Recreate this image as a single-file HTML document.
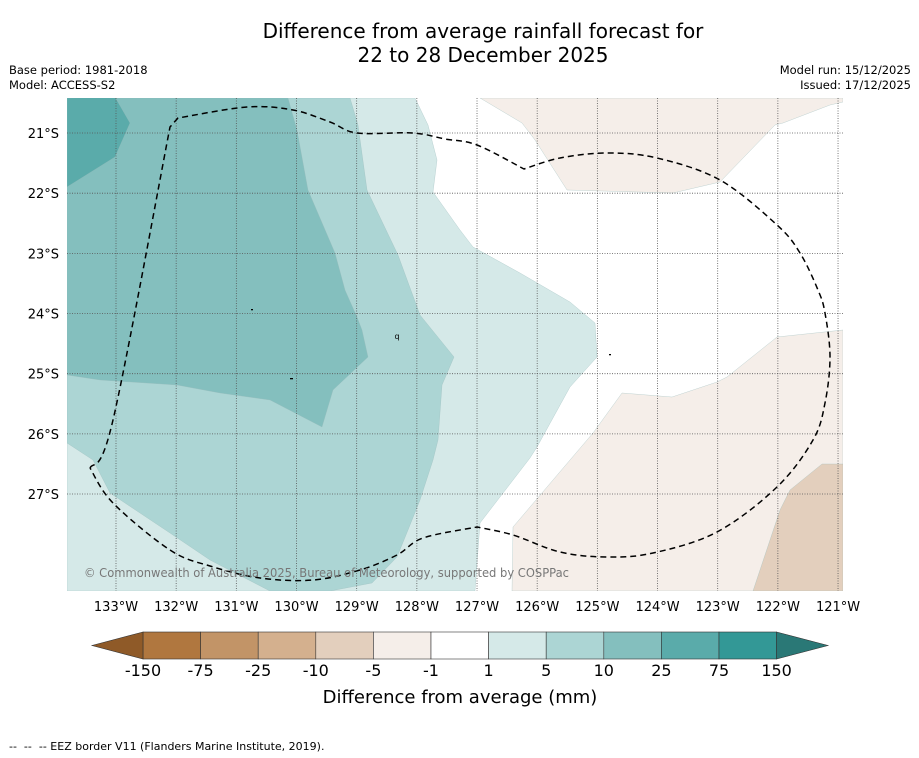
<!DOCTYPE html>
<html><head><meta charset="utf-8"><style>
body{margin:0;background:#fff;font-family:"Liberation Sans","DejaVu Sans",sans-serif;}
#wrap{position:relative;width:919px;height:758px;overflow:hidden;}
.t{position:absolute;font-family:"DejaVu Sans","Liberation Sans",sans-serif;}
</style></head><body>
<div id="wrap">
<div class="t" style="left:0;width:966px;top:19px;text-align:center;font-size:20px;line-height:24px;color:#000">Difference from average rainfall forecast for<br>22 to 28 December 2025</div>
<div class="t" style="left:9px;top:63px;font-size:11.5px;line-height:15px">Base period: 1981-2018<br>Model: ACCESS-S2</div>
<div class="t" style="right:8px;top:63px;font-size:11.5px;line-height:15px;text-align:right">Model run: 15/12/2025<br>Issued: 17/12/2025</div>
<div class="t" style="left:9px;top:740px;font-size:11px">-- &nbsp;-- &nbsp;-- EEZ border V11 (Flanders Marine Institute, 2019).</div>
<svg id="svg" width="919" height="758" style="position:absolute;left:0;top:0"></svg>
</div>
<script>
const lonTicks=[133,132,131,130,129,128,127,126,125,124,123,122,121];
const latTicks=[21,22,23,24,25,26,27];
const cbLevels=["-150","-75","-25","-10","-5","-1","1","5","10","25","75","150"];
const cbColors=["#b0773f","#c29467","#d4b08e","#e3cfbd","#f5eee9","#ffffff","#d5e9e8","#acd5d4","#84bfbe","#5aabaa","#339896"];
const lonX=l=>116+(133-l)*60.17;
const latY=l=>133+(l-21)*60.17;
const NS="http://www.w3.org/2000/svg";
const svg=document.getElementById('svg');
function mk(tag,attrs,parent){const e=document.createElementNS(NS,tag);for(const k in attrs)e.setAttribute(k,attrs[k]);(parent||svg).appendChild(e);return e;}
const defs=mk('defs',{});
const cp=mk('clipPath',{id:'mc'},defs);mk('rect',{x:67,y:98,width:776,height:493},cp);
const g=mk('g',{'clip-path':'url(#mc)'});


const regions=[
 ["region-1-5","#d5e9e8","67,98 415,98 428,125 437,160 433,192 460,230 473,247 520,273 570,302 595,323 597,357 570,387 537,447 530,458 480,523 475,591 67,591"],
 ["region-5-10","#acd5d4","67,98 350,98 358,125 367,190 398,255 420,315 454,357 442,385 438,440 433,460 420,500 408,530 397,557 372,583 330,591 270,591 210,560 170,533 110,493 93,460 67,443"],
 ["region-10-25","#84bfbe","67,98 288,98 297,130 308,190 335,253 345,290 357,317 362,330 368,357 333,390 322,427 270,400 220,393 177,385 100,380 67,375"],
 ["region-25-75","#5aabaa","67,98 115,97 130,123 115,157 67,187"],
 ["region-neg1-neg5-top","#f5eee9","480,98 522,123 535,140 567,190 673,193 720,182 775,125 783,123 830,105 843,102 843,98"],
 ["region-neg1-neg5-bottom","#f5eee9","843,330 777,337 727,377 717,382 672,397 622,393 593,433 570,460 513,527 512,591 843,591"],
 ["region-neg5-neg10","#e3cfbd","843,464 822,464 790,490 780,510 753,591 843,591"]
];
regions.forEach(r=>{const p=mk('polygon',{points:r[2],fill:r[1],stroke:'#9bb',"stroke-width":0.3},g);

});
lonTicks.forEach(l=>{const x=lonX(l);const ln=mk('line',{x1:x,x2:x,y1:98,y2:591,stroke:'#555','stroke-width':0.8,'stroke-dasharray':'1,1.5'},g);


const t=mk('text',{x:x,y:611,'font-size':13,'text-anchor':'middle','font-family':'DejaVu Sans, sans-serif'});t.textContent=l+'°W';

});
latTicks.forEach(l=>{const y=latY(l);const ln=mk('line',{x1:67,x2:843,y1:y,y2:y,stroke:'#555','stroke-width':0.8,'stroke-dasharray':'1,1.5'},g);


const t=mk('text',{x:59,y:y+5,'font-size':13,'text-anchor':'end','font-family':'DejaVu Sans, sans-serif'});t.textContent=l+'°S';

});
// EEZ smooth path (Catmull-Rom); corners kept by segments
const eezPts=[[90,468],[113,420],[170,127],[178,118],[247,107],[293,110],[330,122],[357,133],[413,133],[445,139],[477,145],[524,169],[560,158],[607,153],[657,158],[720,180],[777,225],[800,253],[818,290],[825,313],[830,357],[825,403],[813,440],[777,487],[717,532],[653,553],[607,557],[560,552],[513,535],[477,527],[423,538],[397,555],[360,570],[313,580],[260,578],[210,566],[170,550],[113,503],[90,468]];
const corners=new Set([0,2,3,11,29,38]);
let d=`M${eezPts[0][0]},${eezPts[0][1]}`;
for(let i=0;i<eezPts.length-1;i++){
 const p1=eezPts[i],p2=eezPts[i+1];
 const p0=corners.has(i)?p1:(eezPts[i-1]||p1);
 const p3=corners.has(i+1)?p2:(eezPts[i+2]||p2);
 const c1=[p1[0]+(p2[0]-p0[0])/6,p1[1]+(p2[1]-p0[1])/6];
 const c2=[p2[0]-(p3[0]-p1[0])/6,p2[1]-(p3[1]-p1[1])/6];
 d+=` C${c1[0]},${c1[1]} ${c2[0]},${c2[1]} ${p2[0]},${p2[1]}`;
}
const eez=mk('path',{d:d,fill:'none',stroke:'#000','stroke-width':1.5,'stroke-dasharray':'6,4'},g);


[[251,309,2],[290,378,3],[609,354,2]].forEach(m=>{const r=mk('rect',{x:m[0],y:m[1],width:m[2],height:1.3,fill:'#000'},g);

});
const isl=mk('text',{x:397,y:339,'font-size':8,'text-anchor':'middle','font-family':'DejaVu Sans, sans-serif'},g);isl.textContent='q';


const cr=mk('text',{x:84,y:577,'font-size':12,fill:'#777','font-family':'DejaVu Sans, sans-serif',textLength:485,lengthAdjust:'spacingAndGlyphs'});cr.textContent='© Commonwealth of Australia 2025, Bureau of Meteorology, supported by COSPPac';


// colorbar
const cbX0=143,cbW=57.6,cbY=632,cbH=27;
cbColors.forEach((c,i)=>{const r=mk('rect',{x:cbX0+i*cbW,y:cbY,width:cbW,height:cbH,fill:c,stroke:'#333','stroke-width':0.6});

});
const la=mk('polygon',{points:`${cbX0},${cbY} 92,${cbY+cbH/2} ${cbX0},${cbY+cbH}`,fill:'#8f5a28',stroke:'#333','stroke-width':0.6});


const ra=mk('polygon',{points:`${cbX0+11*cbW},${cbY} 828,${cbY+cbH/2} ${cbX0+11*cbW},${cbY+cbH}`,fill:'#2a7876',stroke:'#333','stroke-width':0.6});


cbLevels.forEach((s,i)=>{const t=mk('text',{x:cbX0+i*cbW,y:676,'font-size':16,'text-anchor':'middle','font-family':'DejaVu Sans, sans-serif'});t.textContent=s;

});
const cl=mk('text',{x:460,y:703,'font-size':18,'text-anchor':'middle','font-family':'DejaVu Sans, sans-serif'});cl.textContent='Difference from average (mm)';


</script>
</body></html>
